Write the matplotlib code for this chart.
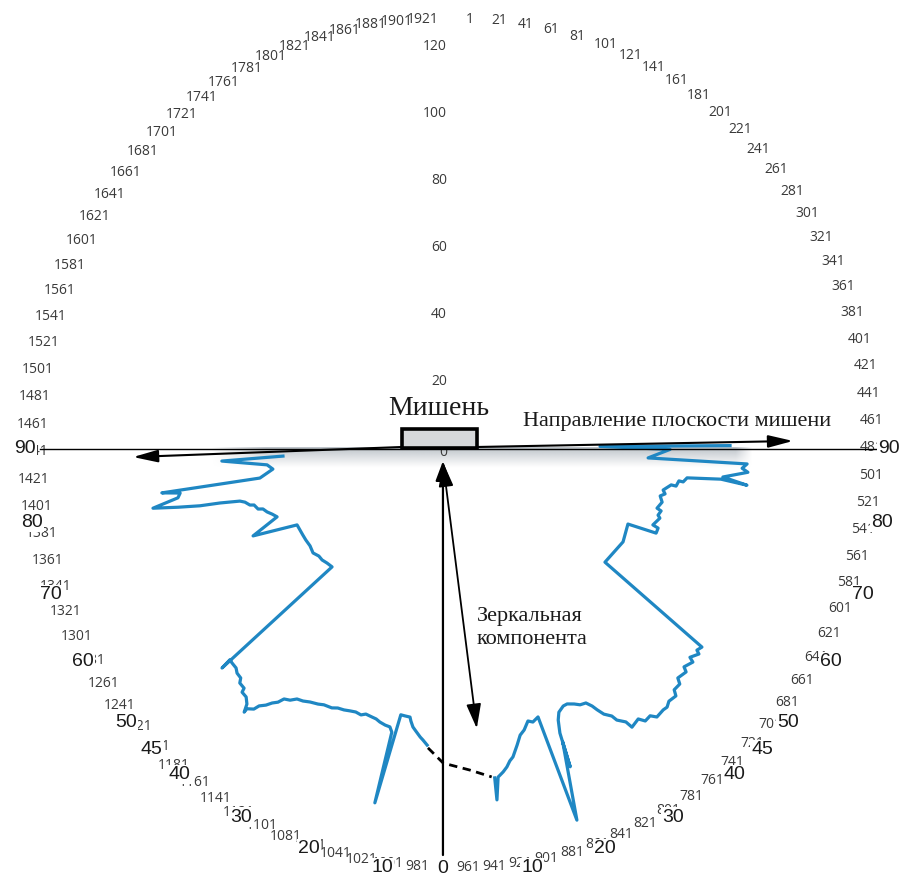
import numpy as np
import matplotlib
matplotlib.use('Agg')
import matplotlib.pyplot as plt
from matplotlib.patches import Rectangle

# ---- data (chart angle in degrees, clockwise from top; intensity on radial scale 0..120) ----
theta_right = [89.3, 89.0, 90.1, 92.6, 92.9, 93.8, 94.5, 95.9, 97.0, 96.4, 97.0, 98.1, 98.0, 99.4,
               99.3, 101.0, 101.9, 102.7, 104.2, 106.1, 106.5, 107.8, 108.4, 110.7, 111.0, 112.4,
               113.1, 118.5, 126.5, 128.4, 129.4, 129.7, 131.2, 131.5, 133.2, 133.6, 135.4, 135.9,
               137.3, 137.8, 139.3, 140.2, 141.0, 142.6, 143.4, 144.6, 145.4, 147.1, 147.5, 148.7,
               149.1, 150.2, 150.9, 151.4, 152.2, 153.4, 154.4, 155.7, 156.6, 157.9, 158.6, 159.2,
               159.6, 159.3, 161.4, 162.2, 163.5, 164.4, 165.6, 166.6, 167.6, 168.8, 169.5, 170.2,
               171.0, 172.0, 172.7, 172.6]
intensity_right = [83.0, 44.2, 65.1, 58.6, 88.2, 86.8, 88.6, 81.3, 88.7, 80.8, 70.7, 69.7, 68.4,
                   67.8, 66.3, 64.2, 65.0, 63.7, 64.7, 63.7, 65.1, 64.6, 65.4, 64.1, 65.9, 65.9,
                   57.1, 58.1, 56.8, 95.2, 94.6, 95.8, 94.4, 96.0, 95.0, 96.5, 96.0, 97.7, 97.8,
                   99.5, 99.3, 100.3, 100.2, 100.7, 99.2, 99.6, 97.9, 98.9, 96.6, 94.7, 92.9, 91.2,
                   89.1, 87.4, 85.7, 85.4, 84.4, 83.5, 83.6, 84.8, 86.9, 90.7, 101.2, 93.5, 116.9,
                   84.0, 85.0, 84.3, 86.6, 87.8, 90.5, 93.7, 94.7, 96.3, 97.6, 98.9, 105.6, 99.0]
theta_left = [184.8, 185.7, 186.3, 187.3, 188.0, 188.6, 188.9, 190.0, 190.9, 192.3, 192.0, 192.6,
              193.6, 194.8, 195.7, 196.6, 198.0, 198.9, 200.1, 201.3, 202.5, 203.8, 204.9, 206.6,
              207.7, 209.3, 210.6, 211.8, 212.8, 213.9, 214.5, 215.3, 216.0, 216.9, 217.3, 218.3,
              218.3, 218.8, 219.7, 220.8, 221.0, 222.2, 222.7, 223.8, 224.6, 225.8, 226.5, 226.4,
              225.5, 227.6, 229.5, 231.2, 233.2, 235.7, 238.1, 240.0, 243.9, 246.4, 248.8, 250.1,
              251.2, 252.4, 252.8, 254.2, 254.5, 255.6, 256.2, 256.9, 257.3, 258.0, 258.8, 259.9,
              260.8, 261.4, 261.4, 263.6, 265.1, 267.0, 267.6]
intensity_left = [88.7, 87.3, 86.5, 84.9, 83.8, 82.1, 81.0, 80.9, 80.8, 108.1, 86.4, 85.0, 84.8,
                  84.3, 83.7, 83.5, 83.2, 83.9, 83.6, 83.9, 84.3, 84.5, 85.2, 85.4, 86.0, 86.6,
                  87.4, 87.8, 89.2, 89.9, 91.7, 92.9, 94.5, 95.9, 97.6, 98.8, 100.1, 97.7, 96.2,
                  95.9, 94.6, 94.3, 93.0, 92.7, 91.8, 91.6, 91.4, 94.8, 50.2, 50.5, 51.0, 51.0,
                  51.8, 51.3, 51.4, 51.4, 51.5, 64.8, 56.0, 57.1, 58.3, 59.2, 60.6, 61.4, 62.6,
                  63.8, 65.2, 71.1, 77.1, 83.6, 91.0, 83.1, 82.2, 87.6, 58.0, 53.8, 55.4, 68.8, 50.5]
theta_gap = [184.6, 181.6, 176.8, 173.1]
intensity_gap = [89.5, 93.8, 96.0, 98.6]

idx_labels = list(range(1, 1940, 20))
n_points = 1940
bold_vals = [10, 20, 30, 40, 45, 50, 60, 70, 80, 90]
radial_vals = [0, 20, 40, 60, 80, 100, 120]

BLUE = '#1f87c3'
fig = plt.figure(figsize=(9.03, 8.77), dpi=100)
rect = [0.05537, 0.029647, 0.890365, 0.916762]

# background shading under the target plane
ovb = fig.add_axes(rect, zorder=0)
ovb.axis('off')
H, W = 40, 300
yy = np.linspace(0, 1, H)[:, None]; xx = np.linspace(0, 1, W)[None, :]
alpha = (1 - yy) ** 1.1 * np.clip(np.minimum(xx / 0.10, (1 - xx) / 0.03), 0, 1)
img = np.zeros((H, W, 4)); img[..., :3] = np.array([188, 194, 200]) / 255.0
img[..., 3] = alpha
ovb.imshow(img, extent=(-72, 89.6, -5.8, 0.3), origin='upper', aspect='auto', interpolation='bilinear')
ovb.set_xlim(-120, 120); ovb.set_ylim(-120, 120)

# radar (polar) data
ax = fig.add_axes(rect, projection='polar', zorder=1)
ax.set_theta_zero_location('N'); ax.set_theta_direction(-1)
ax.set_ylim(0, 120)
ax.grid(False); ax.spines['polar'].set_visible(False)
ax.set_xticks([]); ax.set_yticks([])
ax.patch.set_alpha(0)
ax.plot(np.radians(theta_right), intensity_right, color=BLUE, lw=2.3, solid_joinstyle='round')
ax.plot(np.radians(theta_left), intensity_left, color=BLUE, lw=2.3, solid_joinstyle='round')
ax.plot(np.radians(theta_gap), intensity_gap, color='black', lw=2.0, ls=(0, (3, 2)))

# annotation layer (same units as the radial scale)
ov = fig.add_axes(rect, zorder=2)
ov.set_xlim(-120, 120); ov.set_ylim(-120, 120); ov.axis('off')
ov.patch.set_alpha(0)

LC = (0.6, 1.79); LRX, LRY = 121.2, 126.6; ROT = 1.6
for i in idx_labels:
    th = (i - 1) / n_points * 360.0 + ROT
    t = np.radians(th)
    s, c = np.sin(t), np.cos(t)
    x, y = LC[0] + LRX * s, LC[1] + LRY * c
    ha = 'left' if s > 0.0 else 'right'
    ov.text(x, y, str(i), ha=ha, va='center', fontsize=10, family='Open Sans',
            color='#3a3a3a', zorder=3, clip_on=False)

BC = (1.49, 0.0); BRX, BRY = 128.96, 126.9
for v in bold_vals:
    for th in (180 - v, 180 + v):
        t = np.radians(th)
        x, y = BC[0] + BRX * np.sin(t), BC[1] + BRY * np.cos(t)
        ov.text(x, y, str(v), ha='center', va='center', fontsize=14, family='Liberation Sans',
                color='#1a1a1a', zorder=5, clip_on=False,
                bbox=dict(fc='white', ec='none', pad=0.8))
ov.text(-2.7, -125.1, '0', ha='center', va='center', fontsize=14, family='Liberation Sans',
        color='#1a1a1a', zorder=5, clip_on=False, bbox=dict(fc='white', ec='none', pad=0.8))

for v in radial_vals:
    ov.text(-1.5, v if v else -0.9, str(v), ha='right', va='center', fontsize=10,
            family='Open Sans', color='#3a3a3a', zorder=3)

ov.plot([-123, 127.8], [0, 0], color='black', lw=1.0, clip_on=False, zorder=4)
ov.add_patch(Rectangle((-14.9, 0.15), 22.4, 5.85, fc='#d6d8da', ec='black', lw=2.6, zorder=6))

def arrow(xy, xytext, style, lw):
    ov.annotate('', xy=xy, xytext=xytext, zorder=6,
                arrowprops=dict(arrowstyle=style, mutation_scale=15, lw=lw, color='black',
                                shrinkA=0, shrinkB=0))

arrow((-2.7, -3.6), (-2.7, -121.2), '-|>,head_length=0.8,head_width=0.3', 1.6)
arrow((7.4, -83.4), (-2.7, -3.9), '<|-|>,head_length=1.0,head_width=0.3', 1.3)
arrow((-95.2, -2.4), (-14.9, 0.6), '-|>,head_length=1.0,head_width=0.25', 1.5)
arrow((101.8, 2.4), (7.5, 0.6), '-|>,head_length=1.0,head_width=0.25', 1.5)

SERIF = 'Liberation Serif'
ov.text(-3.9, 12.2, 'Мишень', ha='center', va='center', fontsize=20, family=SERIF, color='#1a1a1a')
ov.text(67.2, 8.2, 'Направление плоскости мишени', ha='center', va='center', fontsize=16,
        family=SERIF, color='#1a1a1a')
ov.text(23.3, -50.1, 'Зеркальная', ha='center', va='center', fontsize=16, family=SERIF, color='#1a1a1a')
ov.text(23.8, -57.0, 'компонента', ha='center', va='center', fontsize=16, family=SERIF, color='#1a1a1a')

fig.savefig('out.png', dpi=100)
